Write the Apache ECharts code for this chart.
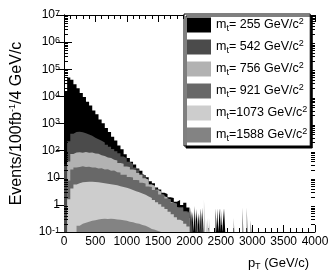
<!DOCTYPE html>
<html><head><meta charset="utf-8">
<script src="https://cdn.jsdelivr.net/npm/echarts@6/dist/echarts.min.js"></script>
<style>html,body{margin:0;padding:0;background:#fff}#c{width:332px;height:276px}</style>
</head><body><div id="c"></div>
<script>
// ---- data (histogram bins of 50 GeV starting at 0; values = events per bin)
const binWidth = 50;
const massNames = ['255', '542', '756', '921', '1073', '1588'];
const massLabels = ['= 255', '= 542', '= 756', '= 921', '=1073', '=1588'];
const massColors = ['#000000', '#4b4b4b', '#b2b2b2', '#686868', '#cdcdcd', '#838383'];

const m255 = [15800, 50100, 40700, 28000, 19800, 13300, 9500, 6300, 4600, 3000,
  2200, 1400, 1020, 680, 490, 325, 235, 155, 112, 74,
  54, 39, 31, 22, 18, 12.5, 10.5, 7.5, 6.3, 4.4,
  3.7, 2.8, 2.5, 1.9, 1.8, 1.3, 1.5, 1.0, 1.2, 0.8];
const m542 = [30, 220, 420, 490, 500, 480, 440, 390, 350, 300,
  265, 230, 200, 165, 138, 115, 95, 80, 61, 52,
  39, 33, 24, 20, 14, 12, 7, 5.8, 4.2, 3.8,
  2.6, 2.4, 1.7, 1.6, 1.2, 1.1, 0.8, 0.85, 0.6, 0.55];
const m756 = [0, 40, 75, 86, 88, 84, 89, 83, 85, 78,
  76, 68, 64, 56, 53, 46, 43, 35, 33, 26,
  25, 20, 19, 15, 12.5, 9.5, 8.4, 5.6, 5.1, 3.5,
  3.1, 2.1, 1.9, 1.3, 1.2, 0.8, 0.75, 0.5, 0.48, 0.33];
const m921 = [0, 8, 20, 24, 25, 26.5, 25, 25.5, 24, 24,
  22, 22.5, 20, 20.5, 18, 18.5, 16, 15.5, 13, 12.8,
  10.6, 10.2, 8.3, 8.1, 6.5, 6.2, 4.8, 4.6, 3.5, 3.4,
  2.4, 2.3, 1.7, 1.6, 1.2, 1.1, 0.8, 0.75, 0.55, 0.5];
const m1073 = [0, 1.6, 4, 5.6, 6.3, 6.8, 6.9, 7.1, 7.1, 6.9,
  6.8, 6.6, 6.3, 6.0, 5.75, 5.5, 5.25, 4.9, 4.6, 4.3,
  3.9, 3.5, 3.2, 2.95, 2.6, 2.35, 2.05, 1.8, 1.5, 1.26,
  1.05, 0.85, 0.7, 0.56, 0.45, 0.35, 0.28, 0.25, 0.2, 0.16];
const m1588 = [0, 0, 0, 0, 0.17, 0.2, 0.22, 0.24, 0.26, 0.27,
  0.29, 0.3, 0.31, 0.3, 0.31, 0.3, 0.29, 0.28, 0.27, 0.26,
  0.24, 0.23, 0.21, 0.2, 0.18, 0.17, 0.15, 0.13, 0.12, 0.11,
  0, 0, 0, 0, 0, 0, 0, 0, 0, 0];

// isolated single-bin entries in the high-pT tail: [pT, value]
const spikeWidth = 20;
const tail255 = [[2010, 0.8], [2045, 0.55], [2075, 0.9], [2110, 0.7], [2145, 0.5], [2180, 0.75], [2205, 0.8],
  [2415, 0.75], [2440, 0.75], [2480, 0.75], [2500, 0.75], [2550, 0.75]];
const tail542 = [[2030, 0.6], [2095, 0.5], [2160, 0.45]];
const tail756 = [[2230, 1.6], [2700, 0.33]];
const tail921 = [[2120, 0.4], [2190, 0.5]];
const tail1073 = [[2260, 0.33], [2285, 0.33], [2310, 0.33]];
const tail1588 = [[2840, 0.8], [2910, 0.8], [2970, 0.27]];

const xTickInterval = 500;
const yMin = 0.1, yMax = 1e7;

// ---- build
const FLOOR = yMin; // empty bins sit on the bottom of the axis
function histData(vals, tail) {
  const pts = [];
  vals.forEach((v, i) => pts.push([i * binWidth, v > yMin ? v : FLOOR]));
  pts.push([vals.length * binWidth, FLOOR]);
  tail.forEach(([x, v]) => { pts.push([x, v]); pts.push([x + spikeWidth, FLOOR]); });
  pts.push([4000, FLOOR]);
  return pts;
}
const allVals = [m255, m542, m756, m921, m1073, m1588];
const allTails = [tail255, tail542, tail756, tail921, tail1073, tail1588];

const FONT = 'Liberation Sans, Arial, Helvetica, sans-serif';
const series = massNames.map((n, i) => ({
  name: n, type: 'line', step: 'end', symbol: 'none', showSymbol: false,
  data: histData(allVals[i], allTails[i]),
  lineStyle: { width: 0, color: massColors[i] },
  itemStyle: { color: massColors[i] },
  areaStyle: { color: massColors[i], opacity: 1, origin: 'start' },
  emphasis: { disabled: true }, silent: true, animation: false
}));

// log minor tick positions (2..9 x 10^k)
const minorTicks = [];
for (let k = -1; k < 7; k++) for (let m = 2; m <= 9; m++) minorTicks.push([0, m * Math.pow(10, k)]);
series.push({
  type: 'custom', silent: true, z: 10, clip: false, animation: false,
  data: minorTicks,
  renderItem: (p, api) => {
    const v = api.value(1);
    const a = api.coord([0, v]), b = api.coord([4000, v]);
    const y = Math.round(a[1]) + 0.5;
    return { type: 'group', children: [
      { type: 'line', shape: { x1: a[0], y1: y, x2: a[0] + 4, y2: y }, style: { stroke: '#000', lineWidth: 1 } },
      { type: 'line', shape: { x1: b[0], y1: y, x2: b[0] - 4, y2: y }, style: { stroke: '#000', lineWidth: 1 } }
    ]};
  }
});

const supRich = { sup: { fontSize: 9, lineHeight: 9, verticalAlign: 'top', fontFamily: FONT, color: '#000' },
                  sub: { fontSize: 9, lineHeight: 9, verticalAlign: 'bottom', fontFamily: FONT, color: '#000' } };

function yLabel(v) {
  const k = Math.round(Math.log10(v));
  if (k === 0) return '1';
  if (k === 1) return '10';
  return '10{sup|' + k + '}';
}

const xBase = { type: 'value', min: 0, max: 4000, interval: xTickInterval,
  axisLine: { lineStyle: { color: '#000', width: 1 } },
  axisTick: { inside: true, length: 7, lineStyle: { color: '#000' } },
  minorTick: { show: true, splitNumber: 5, length: 4, lineStyle: { color: '#000' } },
  splitLine: { show: false } };
const yBase = { type: 'log', logBase: 10, min: yMin, max: yMax, interval: 1,
  axisLine: { show: true, lineStyle: { color: '#000', width: 1 } },
  axisTick: { inside: true, length: 8, lineStyle: { color: '#000' } },
  splitLine: { show: false } };

const chart = echarts.init(document.getElementById('c'), null, { renderer: 'canvas' });
chart.setOption({
  animation: false,
  backgroundColor: '#fff',
  grid: { left: 53, right: 17, top: 15, bottom: 44 },
  title: {
    text: 'p{sub|T} (GeV/c)', right: 18, top: 250,
    textStyle: { fontSize: 13, fontWeight: 'normal', fontFamily: FONT, color: '#000', lineHeight: 16, rich: supRich }
  },
  legend: {
    orient: 'vertical', left: 184, top: 14, padding: [3, 3, 3, 3],
    itemWidth: 24, itemHeight: 15, itemGap: 6, icon: 'rect',
    backgroundColor: '#fff', borderColor: '#000', borderWidth: 1,
    shadowColor: '#000', shadowOffsetX: 2, shadowOffsetY: 2, shadowBlur: 0,
    data: massNames, selectedMode: false,
    formatter: n => 'm{sub|t}' + massLabels[massNames.indexOf(n)] + ' GeV/c{sup|2}',
    textStyle: { fontSize: 12.5, fontFamily: FONT, color: '#000', lineHeight: 16, rich: supRich }
  },
  xAxis: [
    Object.assign({}, xBase, { position: 'bottom',
      axisLabel: { fontSize: 12, fontFamily: FONT, color: '#000', margin: 4, formatter: v => String(v) } }),
    Object.assign({}, xBase, { position: 'top', axisLabel: { show: false } })
  ],
  yAxis: [
    Object.assign({}, yBase, { position: 'left',
      name: 'Events/100fb{sup|-1}/4 GeV/c', nameLocation: 'middle', nameRotate: 90, nameGap: 38,
      nameTextStyle: { fontSize: 16, fontFamily: FONT, color: '#000', lineHeight: 18, rich: supRich },
      axisLabel: { fontSize: 12, fontFamily: FONT, color: '#000', margin: 4, formatter: yLabel, rich: supRich } }),
    Object.assign({}, yBase, { position: 'right', axisLabel: { show: false } })
  ],
  series: series
});
</script></body></html>
